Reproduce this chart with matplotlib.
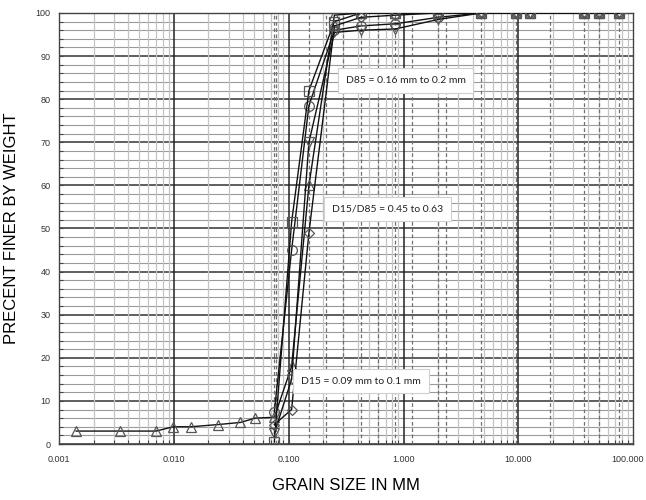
import matplotlib
matplotlib.use("Agg")
import matplotlib.pyplot as plt
import matplotlib.transforms as mtransforms
import numpy as np
from matplotlib.ticker import FixedLocator, NullFormatter, LogLocator

# ---------------- data ----------------
hyd_d = [0.00141, 0.0034, 0.0070, 0.0099, 0.0141, 0.024, 0.038, 0.051]
hyd_p = [3, 3, 3, 4, 4, 4.5, 5, 6]

sieve_d = [0.075, 0.106, 0.15, 0.25, 0.425, 0.85, 2.0, 4.75, 9.5, 12.5, 37.5, 50, 75]
circle_p = [7.5, 45, 78.5, 96, 97, 97.5, 99, 100, 100, 100, 100, 100, 100]
square_p = [0.5, 51.5, 82, 98, 100, 100, 100, 100, 100, 100, 100, 100, 100]
invtri_p = [2.5, 15, 70, 95.5, 96, 96.3, 98.5, 100, 100, 100, 100, 100, 100]
diamond_p = [4.5, 8, 49, 97, 99, 99.5, 100, 100, 100, 100, 100, 100, 100]
triangle_p = [6.2, 18, 60, 99.5, 100, 100, 100, 100, 100, 100, 100, 100, 100]

sieve_lines = [0.075, 0.078, 0.15, 0.212, 0.3, 0.425, 0.6, 0.85, 1.18, 2.0, 2.36,
               4.75, 9.5, 19, 37.5, 50, 75]

x_ticks = [0.001, 0.01, 0.1, 1, 10, 100]
x_ticklabels = ["0.001", "0.010", "0.100", "1.000", "10.000", "100.000"]
y_ticks = list(range(0, 101, 10))

notes = [
    ("D85 = 0.16 mm to 0.2 mm", 1.04, 84.4),
    ("D15/D85 = 0.45 to 0.63", 0.724, 54.5),
    ("D15 = 0.09 mm to 0.1 mm", 0.426, 14.6),
]

# ---------------- figure ----------------
fig = plt.figure(figsize=(6.46, 5.00), dpi=100)
ax = fig.add_axes([0.0913, 0.112, 0.889, 0.862])
ax.set_xscale("log")
ax.set_xlim(0.001, 100)
ax.set_ylim(0, 100)

# grid: horizontal
for y in np.arange(0, 101, 2):
    if y % 10 == 0:
        ax.axhline(y, color="#333333", lw=1.1, zorder=1)
    else:
        ax.axhline(y, color="#9a9a9a", lw=0.8, zorder=1)
# grid: vertical
for dec in [0.001, 0.01, 0.1, 1, 10]:
    for m in range(2, 10):
        ax.axvline(dec * m, color="#c4c4c4", lw=0.9, zorder=1)
for dec in [0.01, 0.1, 1, 10]:
    ax.axvline(dec, color="#222222", lw=1.1, zorder=1.2)
for d in sieve_lines:
    ax.axvline(d, color="#707070", lw=0.9, ls=(0, (3, 2)), zorder=1.1)

mk = dict(mfc="none", mec="#555555", mew=0.9, ms=7, color="#111111", lw=1.0, zorder=3)
ax.plot(hyd_d + sieve_d, hyd_p + triangle_p, marker="^", **mk)
ax.plot(sieve_d, circle_p, marker="o", **mk)
ax.plot(sieve_d, square_p, marker="s", **mk)
ax.plot(sieve_d, invtri_p, marker="v", **mk)
ax.plot(sieve_d, diamond_p, marker="D", **{**mk, "ms": 5.5})

for txt, x, y in notes:
    ax.text(x, y, txt, ha="center", va="center", fontsize=7.5, family=["Lato", "DejaVu Sans"],
            color="#222222", zorder=5,
            bbox=dict(boxstyle="square,pad=0.75", fc="white", ec="#d0d0d0", lw=0.8))

ax.xaxis.set_major_locator(FixedLocator(x_ticks))
ax.set_xticklabels(x_ticklabels)
ax.xaxis.set_minor_locator(LogLocator(base=10, subs=np.arange(2, 10)))
ax.xaxis.set_minor_formatter(NullFormatter())
ax.set_yticks(y_ticks)
ax.yaxis.set_minor_locator(FixedLocator(np.arange(0, 101, 2)))
tickfont = ["Liberation Sans Narrow", "Liberation Sans", "DejaVu Sans"]
for lab in ax.get_xticklabels() + ax.get_yticklabels():
    lab.set_family(tickfont)
    lab.set_fontsize(6.5)
    lab.set_color("#333333")
ax.tick_params(axis="both", which="both", direction="in", length=3, width=0.8, color="#444444")
ax.tick_params(axis="x", which="major", pad=8)
ax.tick_params(axis="y", which="major", pad=6)

# keep the last x label inside the figure
last = ax.get_xticklabels()[-1]
last.set_transform(last.get_transform() + mtransforms.ScaledTranslation(-6 / 100, 0, fig.dpi_scale_trans))

for s in ax.spines.values():
    s.set_color("#444444")
    s.set_linewidth(1.0)

ax.set_xlabel("GRAIN SIZE IN MM", family=["Liberation Sans", "DejaVu Sans"], fontsize=12, labelpad=10)
ax.set_ylabel("PRECENT FINER BY WEIGHT", family=["Liberation Sans", "DejaVu Sans"], fontsize=12, labelpad=12)

fig.savefig("out.png", dpi=100)
